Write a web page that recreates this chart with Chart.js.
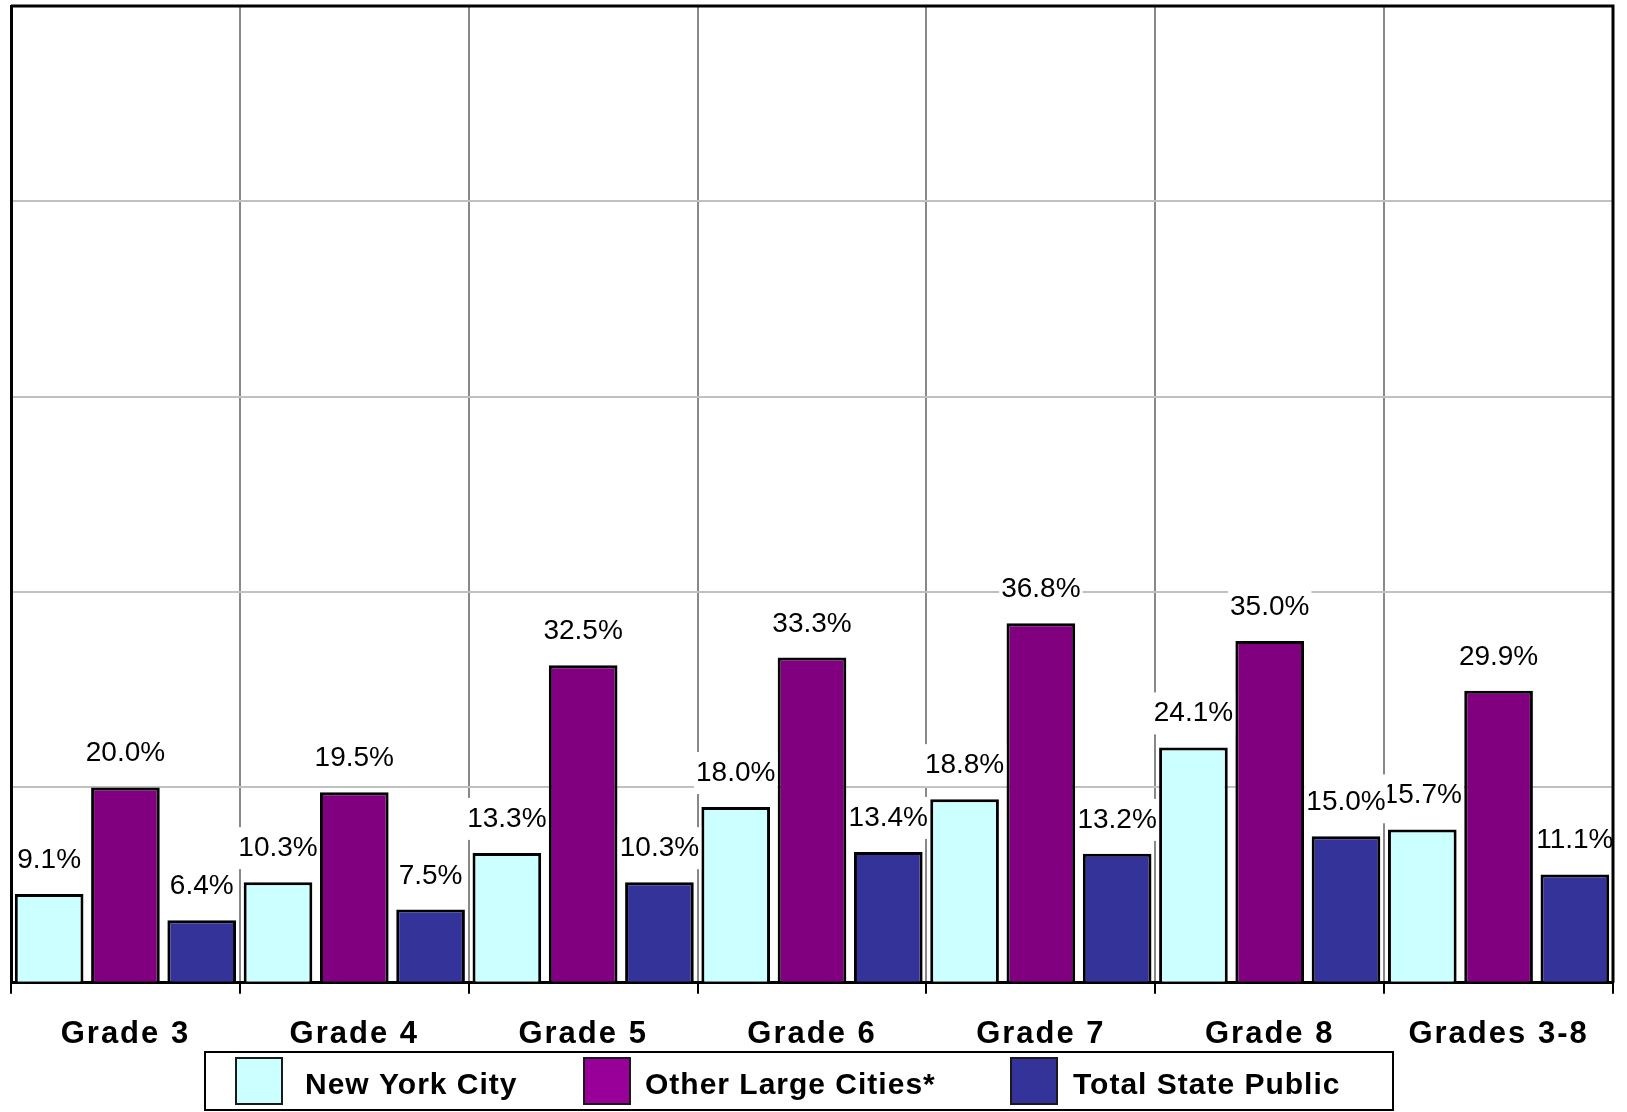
<!DOCTYPE html>
<html>
<head>
<meta charset="utf-8">
<title>Grades 3-8</title>
<script src="https://cdn.jsdelivr.net/npm/chart.js@4.4.0/dist/chart.umd.min.js"></script>
<style>
  html, body { margin: 0; padding: 0; background: #fff; }
  #wrap { width: 1627px; height: 1112px; }
</style>
</head>
<body>
<div id="wrap"><canvas id="gradeChart" width="1627" height="1112"></canvas></div>
<script>
const GRADES = ["Grade 3", "Grade 4", "Grade 5", "Grade 6", "Grade 7", "Grade 8", "Grades 3-8"];
const NEW_YORK_CITY = [9.1, 10.3, 13.3, 18.0, 18.8, 24.1, 15.7];
const OTHER_LARGE_CITIES = [20.0, 19.5, 32.5, 33.3, 36.8, 35.0, 29.9];
const TOTAL_STATE_PUBLIC = [6.4, 7.5, 10.3, 13.4, 13.2, 15.0, 11.1];
const SERIES_NAMES = ["New York City", "Other Large Cities*", "Total State Public"];
const Y_TICKS = [0, 20, 40, 60, 80, 100];

const FONT = "'Liberation Sans', Arial, Helvetica, sans-serif";

function $(id) {
  return document.getElementById(id);
}

// value labels with a white box behind them, like the original
const barLabels = {
  id: "barLabels",
  afterDatasetsDraw(chart) {
    const ctx = chart.ctx;
    ctx.save();
    ctx.letterSpacing = "0px";
    ctx.font = "28px " + FONT;
    ctx.textAlign = "center";
    ctx.textBaseline = "alphabetic";
    chart.data.datasets.forEach((ds, i) => {
      chart.getDatasetMeta(i).data.forEach((bar, j) => {
        const text = ds.data[j].toFixed(1) + "%";
        const w = ctx.measureText(text).width;
        const base = bar.y - 26;
        ctx.fillStyle = "#ffffff";
        ctx.fillRect(bar.x - w / 2 - 2, base - 29, w + 4, 42);
        ctx.fillStyle = "#000000";
        ctx.fillText(text, bar.x, base);
      });
    });
    ctx.restore();
  },
};

// wider letters on the category labels
const axisSpacing = {
  id: "axisSpacing",
  beforeDraw(chart) {
    chart.ctx.letterSpacing = "2px";
  },
  beforeDatasetsDraw(chart) {
    chart.ctx.letterSpacing = "0px";
  },
};

// top / right frame and the boxed legend
const frameAndLegend = {
  id: "frameAndLegend",
  afterDraw(chart) {
    const ctx = chart.ctx;
    const area = chart.chartArea;
    ctx.save();
    ctx.strokeStyle = "#000000";
    ctx.lineWidth = 3;
    ctx.beginPath();
    ctx.moveTo(area.left, area.top);
    ctx.lineTo(area.right, area.top);
    ctx.lineTo(area.right, area.bottom);
    ctx.stroke();

    ctx.lineWidth = 2;
    ctx.strokeRect(205, 1052, 1188, 58);

    const swatchX = [236, 584, 1011];
    const textX = [305, 645, 1073];
    const swatchColors = ["#ccffff", "#990099", "#333399"];
    ctx.font = "bold 30px " + FONT;
    ctx.letterSpacing = "1px";
    ctx.textAlign = "left";
    ctx.textBaseline = "alphabetic";
    SERIES_NAMES.forEach((name, i) => {
      ctx.fillStyle = swatchColors[i];
      ctx.fillRect(swatchX[i], 1058, 46, 46);
      ctx.strokeStyle = "#1a1a1a";
      ctx.strokeRect(swatchX[i], 1058, 46, 46);
      ctx.fillStyle = "#000000";
      ctx.fillText(name, textX[i], 1094);
    });
    ctx.restore();
  },
};

function renderChart() {
  const ctx = $("gradeChart").getContext("2d");
  const barStyle = {
    borderColor: "#000000",
    borderWidth: 3,
    categoryPercentage: 1.0,
    barPercentage: 0.9,
  };

  new Chart(ctx, {
    type: "bar",
    data: {
      labels: GRADES,
      datasets: [
        { label: SERIES_NAMES[0], data: NEW_YORK_CITY, backgroundColor: "#ccffff", ...barStyle },
        { label: SERIES_NAMES[1], data: OTHER_LARGE_CITIES, backgroundColor: "#800080", ...barStyle },
        { label: SERIES_NAMES[2], data: TOTAL_STATE_PUBLIC, backgroundColor: "#333399", ...barStyle },
      ],
    },
    options: {
      responsive: false,
      animation: false,
      devicePixelRatio: 1,
      layout: {
        padding: { left: 11, right: 14, top: 6, bottom: 37 },
      },
      plugins: {
        legend: { display: false },
        tooltip: { enabled: false },
      },
      scales: {
        x: {
          grid: {
            color: "#888888",
            lineWidth: 2,
            tickColor: "#000000",
            tickLength: 11,
            tickWidth: 2,
          },
          border: { color: "#000000", width: 3 },
          ticks: {
            color: "#000000",
            padding: 22,
            font: { family: FONT, size: 31, weight: "bold" },
          },
        },
        y: {
          min: Y_TICKS[0],
          max: Y_TICKS[Y_TICKS.length - 1],
          ticks: {
            display: false,
            stepSize: Y_TICKS[1] - Y_TICKS[0],
          },
          grid: {
            color: "#c0c0c0",
            lineWidth: 2,
            drawTicks: false,
          },
          border: { color: "#000000", width: 3 },
        },
      },
    },
    plugins: [axisSpacing, barLabels, frameAndLegend],
  });
}

document.addEventListener("DOMContentLoaded", renderChart);
</script>
</body>
</html>
